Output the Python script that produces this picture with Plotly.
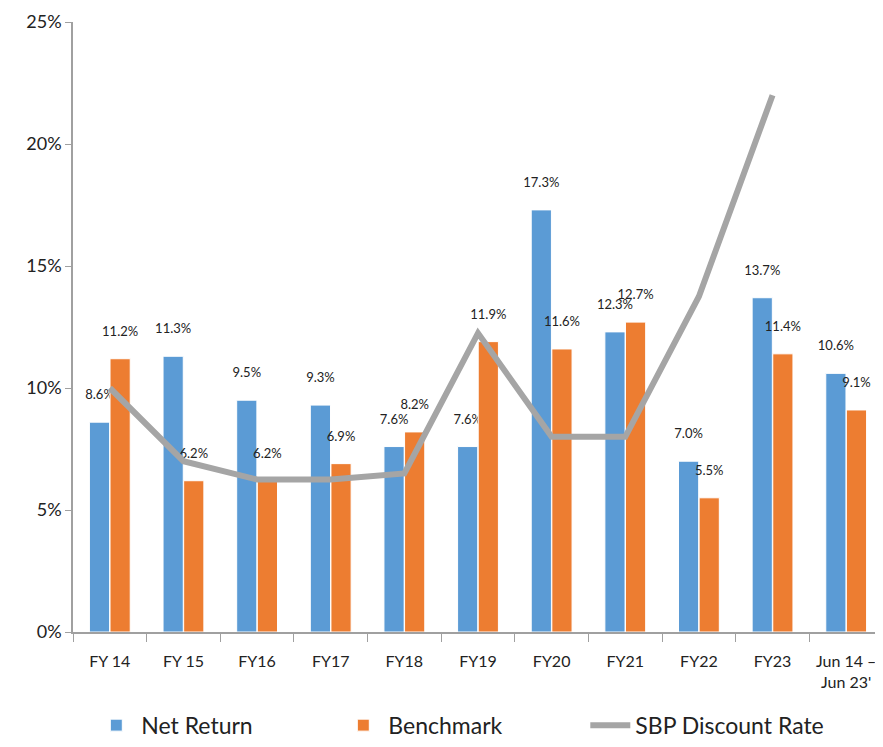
import plotly.graph_objects as go

categories = ["FY 14", "FY 15", "FY16", "FY17", "FY18", "FY19", "FY20", "FY21", "FY22", "FY23", "Jun 14 –<br>Jun 23'"]
net_return = [8.6, 11.3, 9.5, 9.3, 7.6, 7.6, 17.3, 12.3, 7.0, 13.7, 10.6]
benchmark = [11.2, 6.2, 6.2, 6.9, 8.2, 11.9, 11.6, 12.7, 5.5, 11.4, 9.1]
sbp_rate = [10.0, 7.0, 6.25, 6.25, 6.5, 12.25, 8.0, 8.0, 13.75, 22.0, None]
y_ticks = [0, 5, 10, 15, 20, 25]

FONT = "Lato, 'Open Sans', sans-serif"

def labels(vals):
    return [f"{v:.1f}%<br>\u00a0" for v in vals]

fig = go.Figure()
fig.add_trace(go.Bar(
    name="Net Return", x=categories, y=net_return,
    marker=dict(color="#5B9BD5", line=dict(color="white", width=1)),
    text=labels(net_return), textposition="outside",
    constraintext="none",
    textfont=dict(size=13, color="#222"), cliponaxis=False,
))
fig.add_trace(go.Bar(
    name="Benchmark", x=categories, y=benchmark,
    marker=dict(color="#ED7D31", line=dict(color="white", width=1)),
    text=labels(benchmark), textposition="outside",
    constraintext="none",
    textfont=dict(size=13, color="#222"), cliponaxis=False,
))
fig.add_trace(go.Scatter(
    name="SBP Discount Rate", x=categories, y=sbp_rate, mode="lines",
    line=dict(color="#A5A5A5", width=6),
))

fig.update_layout(
    width=883, height=747,
    margin=dict(l=65, r=8, t=14, b=116),
    paper_bgcolor="white", plot_bgcolor="white",
    font=dict(family=FONT, color="#222"),
    barmode="group", bargap=0.44, bargroupgap=0.02,
    showlegend=True,
    legend=dict(orientation="h", x=0.48, xanchor="center", y=-0.188, yanchor="bottom",
                font=dict(size=23, color="#222"), itemwidth=40,
                entrywidth=192, entrywidthmode="pixels"),
    uniformtext=dict(mode=False),
)
fig.update_xaxes(
    showline=True, linecolor="#A0A0A0", linewidth=1.5,
    ticks="outside", tickson="boundaries", ticklen=8, tickcolor="#A0A0A0",
    tickfont=dict(size=16, family=FONT), showgrid=False,
    ticklabelstandoff=14, automargin=False,
)
fig.update_yaxes(
    range=[0, 25], tickvals=y_ticks, ticktext=[f"{t}%" for t in y_ticks],
    showline=True, linecolor="#A0A0A0", linewidth=1.5,
    ticks="outside", ticklen=6, tickcolor="#A0A0A0",
    tickfont=dict(size=18, family=FONT), showgrid=False, zeroline=False,
    automargin=False,
)

fig.write_html("out.html")
